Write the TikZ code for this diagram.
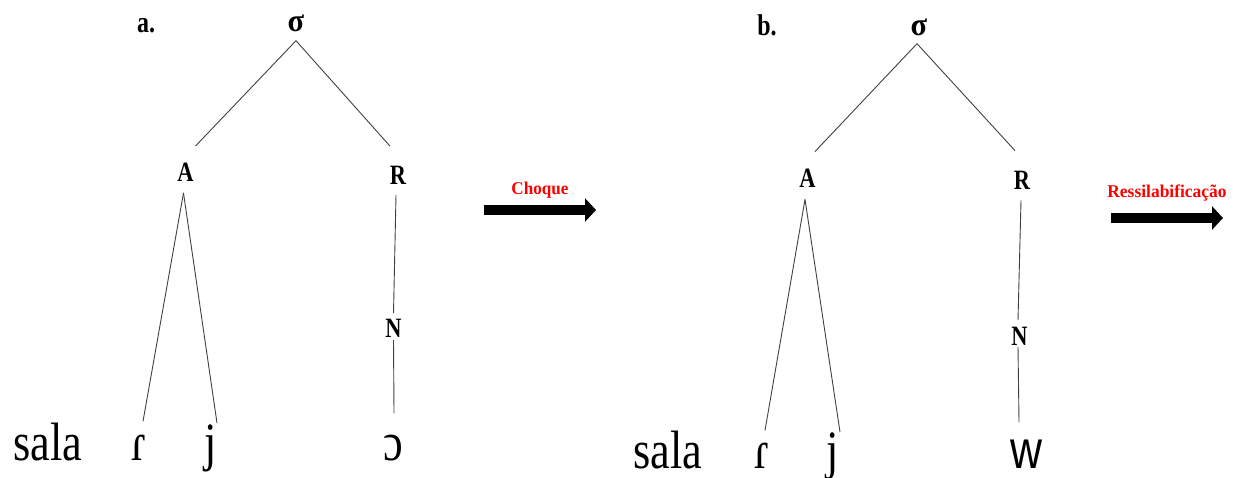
\documentclass[tikz,border=0pt]{standalone}
\usepackage{fontspec}
\usepackage{graphicx}
\setmainfont{Liberation Serif}
\newfontfamily\wsans{Liberation Sans}
\usetikzlibrary{arrows.meta}
\newcommand{\sqz}[2]{\scalebox{#1}[1]{#2}}
\begin{document}
\begin{tikzpicture}[x=1pt,y=-1pt,
  lab/.style={inner sep=0pt, font=\bfseries\fontsize{28}{30}\selectfont},
  toplab/.style={inner sep=0pt, font=\bfseries\fontsize{30}{32}\selectfont},
  siglab/.style={inner sep=0pt, font=\bfseries\fontsize{32}{34}\selectfont},
  seg/.style={inner sep=0pt, anchor=base, font=\fontsize{54}{56}\selectfont},
  br/.style={draw=black!75, line width=0.9pt},
  bigarrow/.style={line width=10pt, -{Triangle[length=11pt,width=23pt]}},
  redlab/.style={inner sep=0pt, anchor=base, text=red, font=\bfseries\fontsize{18}{20}\selectfont}]
\useasboundingbox (0,0) rectangle (1238,478);

% ---- tree a ----
\node[toplab] (la) at (146,26) {\sqz{0.8}{a.}};
\node[siglab] (sa) at (296,23) {\sqz{0.95}{σ}};
\node[lab] (Aa) at (185.5,172.5) {\sqz{0.8}{A}};
\node[lab] (Ra) at (398,175.5) {\sqz{0.8}{R}};
\node[lab] (Na) at (393.5,328.5) {\sqz{0.8}{N}};
\node[seg] (wa) at (48,460) {\sqz{0.82}{sala}};
\node[seg] (ra) at (139,460) {\sqz{0.82}{ɾ}};
\node[seg] (ja) at (211,460) {\sqz{0.82}{j}};
\node[seg] (oa) at (393,460) {\sqz{0.82}{ɔ}};

\draw[br] ([yshift=-9pt]sa.south) -- ([xshift=10pt,yshift=17pt]Aa.north);
\draw[br] ([yshift=-9pt]sa.south) -- ([xshift=-8pt,yshift=20pt]Ra.north);
\draw[br] ([xshift=-2pt,yshift=-11pt]Aa.south) -- ([xshift=4pt,yshift=13pt]ra.north);
\draw[br] ([xshift=-2pt,yshift=-11pt]Aa.south) -- ([xshift=6pt,yshift=1pt]ja.north);
\draw[br] ([xshift=-2pt,yshift=-10pt]Ra.south) -- ([yshift=6pt]Na.north);
\draw[br] ([yshift=-2pt]Na.south) -- ([xshift=1pt,yshift=21pt]oa.north);

% ---- arrow 1 ----
\node[redlab] (ch) at (540,195) {\sqz{0.95}{Choque}};
\coordinate (c1) at (484,210);
\coordinate (c2) at (596,210);
\draw[bigarrow] (c1) -- (c2);

% ---- tree b ----
\node[toplab] (lb) at (767,25) {\sqz{0.8}{b.}};
\node[siglab] (sb) at (919,27) {\sqz{0.95}{σ}};
\node[lab] (Ab) at (807.5,178) {\sqz{0.8}{A}};
\node[lab] (Rb) at (1022,180) {\sqz{0.8}{R}};
\node[lab] (Nb) at (1019.5,336.5) {\sqz{0.8}{N}};
\node[seg] (wb) at (668,468) {\sqz{0.82}{sala}};
\node[seg] (rb) at (761.5,468) {\sqz{0.82}{ɾ}};
\node[seg] (jb) at (833,468) {\sqz{0.82}{j}};
\node[seg, font=\wsans\fontsize{54}{56}\selectfont] (ob) at (1026,468) {\sqz{0.82}{w}};

\draw[br] ([xshift=-2pt,yshift=-8pt]sb.south) -- ([xshift=7.5pt,yshift=17pt]Ab.north);
\draw[br] ([xshift=-2pt,yshift=-8pt]sb.south) -- ([xshift=-7pt,yshift=20pt]Rb.north);
\draw[br] ([xshift=-2.5pt,yshift=-12pt]Ab.south) -- ([xshift=3.5pt,yshift=12pt]rb.north);
\draw[br] ([xshift=-2.5pt,yshift=-12pt]Ab.south) -- ([xshift=7pt]jb.north);
\draw[br] ([xshift=-1pt,yshift=-11pt]Rb.south) -- ([xshift=-1.5pt,yshift=7pt]Nb.north);
\draw[br] ([xshift=-1.5pt,yshift=-1pt]Nb.south) -- ([xshift=-7pt,yshift=17pt]ob.north);

% ---- arrow 2 ----
\node[redlab] (rs) at (1167,198) {\sqz{0.97}{Ressilabificação}};
\coordinate (d1) at (1111,218);
\coordinate (d2) at (1223,218);
\draw[bigarrow] (d1) -- (d2);
\end{tikzpicture}
\end{document}
